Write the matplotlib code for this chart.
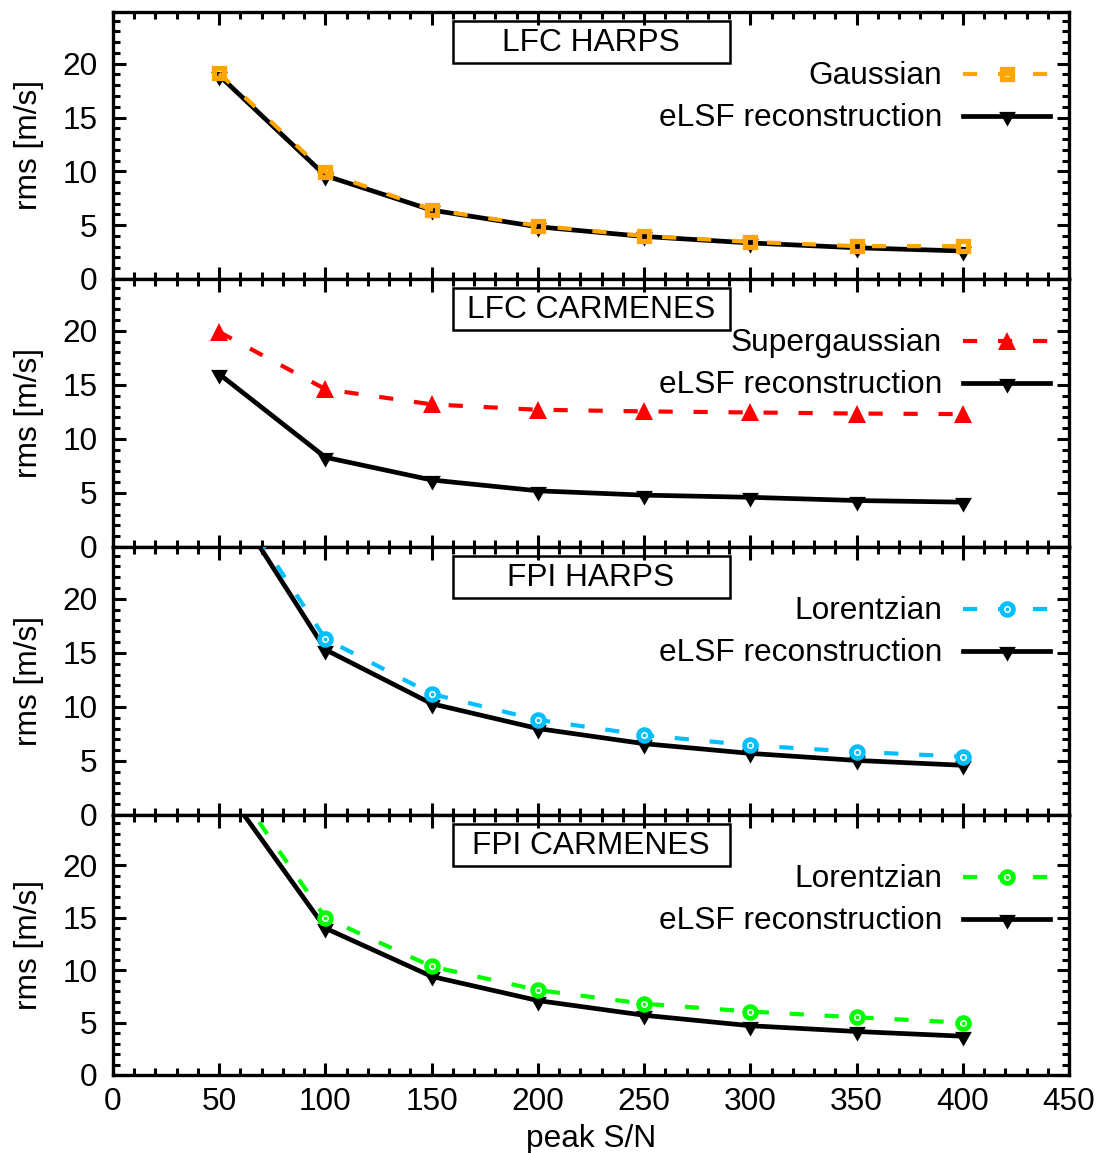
import matplotlib
matplotlib.use("Agg")
import matplotlib.pyplot as plt
from matplotlib.path import Path
from matplotlib.patches import Rectangle
from matplotlib.ticker import MultipleLocator

plt.rcParams['font.family'] = ['Liberation Sans', 'DejaVu Sans']
plt.rcParams['font.size'] = 22.8

# peak S/N of the simulated lines
sn = [50, 100, 150, 200, 250, 300, 350, 400]

# rms of the fitted line centres [m/s]
lfc_harps_gauss = [19.1, 9.9, 6.45, 4.95, 4.0, 3.45, 3.05, 3.05]
lfc_harps_elsf = [18.9, 9.6, 6.4, 4.85, 3.95, 3.35, 2.9, 2.6]
lfc_carm_sgauss = [19.9, 14.6, 13.2, 12.7, 12.55, 12.45, 12.35, 12.3]
lfc_carm_elsf = [16.0, 8.3, 6.2, 5.2, 4.8, 4.6, 4.3, 4.15]
fpi_harps_lorentz = [31.2, 16.3, 11.2, 8.8, 7.4, 6.45, 5.85, 5.4]
fpi_harps_elsf = [30.7, 15.3, 10.3, 8.0, 6.6, 5.7, 5.05, 4.6]
fpi_carm_lorentz = [29.6, 15.0, 10.35, 8.1, 6.8, 6.05, 5.5, 5.0]
fpi_carm_elsf = [28.1, 14.0, 9.4, 7.1, 5.7, 4.7, 4.15, 3.7]

titles = ["LFC HARPS", "LFC CARMENES", "FPI HARPS", "FPI CARMENES"]
fit_names = ["Gaussian", "Supergaussian", "Lorentzian", "Lorentzian"]
fit_values = [lfc_harps_gauss, lfc_carm_sgauss, fpi_harps_lorentz, fpi_carm_lorentz]
elsf_values = [lfc_harps_elsf, lfc_carm_elsf, fpi_harps_elsf, fpi_carm_elsf]

# downward triangle with its centroid on the data point
tri_down = Path([(-1, 0.55), (1, 0.55), (0, -1.2), (-1, 0.55)],
                [Path.MOVETO, Path.LINETO, Path.LINETO, Path.CLOSEPOLY])

fit_styles = [
    dict(color='#ffa500', marker='s', ms=7.5, mfc='none', mew=3.8),
    dict(color='#ff0000', marker='^', ms=12.5, mfc='#ff0000', mew=0),
    dict(color='#00bfff', marker='o', ms=8.5, mfc='white', mew=3.4),
    dict(color='#00ff00', marker='o', ms=8.5, mfc='white', mew=3.4),
]
# ring markers get a small dot in the middle
centre_dot = [False, False, True, True]
elsf_style = dict(color='black', lw=3.4, marker=tri_down, ms=14.5, mfc='black', mew=0)

W, H = 1103, 1153
fig = plt.figure(figsize=(W / 100, H / 100), dpi=100)

# panel edges in pixels from the top
left_px, right_px = 113, 1069
edges = [12, 279, 547, 815, 1075]

for i in range(4):
    top, bot = edges[i], edges[i + 1]
    ax = fig.add_axes([left_px / W, 1 - bot / H, (right_px - left_px) / W, (bot - top) / H])
    hpx = bot - top

    ax.plot(sn, elsf_values[i], zorder=3, **elsf_style)
    st = fit_styles[i]
    ax.plot(sn, fit_values[i], lw=3.0, dashes=(3.4, 5.0), zorder=4, **st)
    if centre_dot[i]:
        ax.plot(sn, fit_values[i], ls='none', marker='o', ms=1.8, color=st['color'], zorder=5)

    ax.set_xlim(0, 450)
    ax.set_ylim(0, 24.8)
    ax.xaxis.set_major_locator(MultipleLocator(50))
    ax.xaxis.set_minor_locator(MultipleLocator(10))
    ax.yaxis.set_major_locator(MultipleLocator(5))
    ax.yaxis.set_minor_locator(MultipleLocator(1))
    ax.tick_params(which='both', direction='in', top=True, right=True, width=2.2,
                   labelbottom=(i == 3))
    ax.tick_params(which='major', length=9)
    ax.tick_params(which='minor', length=5)
    ax.tick_params(axis='y', pad=11)
    ax.tick_params(axis='x', pad=9)
    for sp in ax.spines.values():
        sp.set_linewidth(2.4)

    ax.set_ylabel("rms [m/s]")
    ax.yaxis.set_label_coords(-0.072, 0.5)

    # boxed panel title
    bw, bh = 277 / (right_px - left_px), 42 / hpx
    by = 1 - 51 / hpx
    ax.add_patch(Rectangle((0.5 - bw / 2, by), bw, bh, transform=ax.transAxes,
                           fill=False, lw=1.8, ec='black', zorder=5))
    ax.text(0.5, by + bh / 2 - 0.004, titles[i], transform=ax.transAxes,
            ha='center', va='center', zorder=6)

    # key, labels right-aligned with samples on the right
    x_txt = (942 - left_px) / (right_px - left_px)
    x0 = (963 - left_px) / (right_px - left_px)
    x1 = (1050 - left_px) / (right_px - left_px)
    xm = (x0 + x1) / 2
    for dy, name, kw, extra in [(62, fit_names[i], st, dict(lw=3.0, dashes=(3.4, 5.0))),
                                (104, "eLSF reconstruction", elsf_style, {})]:
        y = 1 - dy / hpx
        ax.text(x_txt, y - 0.006, name, transform=ax.transAxes, ha='right', va='center')
        line_kw = {k: v for k, v in kw.items() if k not in ('marker', 'ms', 'mfc', 'mew')}
        ax.plot([x0, x1], [y, y], transform=ax.transAxes, clip_on=False, **line_kw, **extra)
        mk_kw = {k: v for k, v in kw.items() if k != 'lw'}
        ax.plot([xm], [y], transform=ax.transAxes, ls='none', clip_on=False, **mk_kw)
        if kw is st and centre_dot[i]:
            ax.plot([xm], [y], transform=ax.transAxes, ls='none', marker='o', ms=1.8,
                    color=st['color'], clip_on=False)

    if i == 3:
        ax.set_xlabel("peak S/N")
        ax.xaxis.set_label_coords(0.5, -0.19)

fig.savefig("out.png", dpi=100)
